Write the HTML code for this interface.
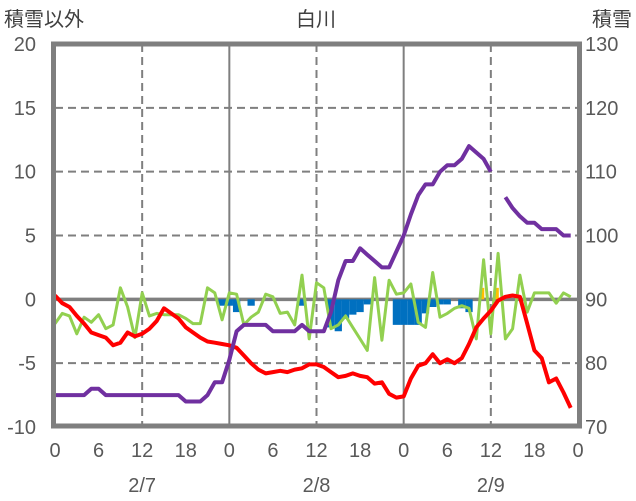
<!DOCTYPE html>
<html><head><meta charset="utf-8">
<style>
html,body{margin:0;padding:0;background:#fff;}
svg{display:block;font-family:"Liberation Sans","Noto Sans CJK JP",sans-serif;}
</style></head>
<body>
<svg id="chart" width="636" height="501" viewBox="0 0 636 501" xmlns="http://www.w3.org/2000/svg">
<g id="grid"></g>
<g id="bars"></g>
<g id="lines"></g>
<g id="axes"></g>
<text x="316" y="26" font-size="20" fill="#404040" text-anchor="middle">白川</text>
<text x="4" y="26" font-size="20" fill="#404040">積雪以外</text>
<text x="632" y="26" font-size="20" fill="#404040" text-anchor="end">積雪</text>
</svg>
<script>
const leftTicks = [20, 15, 10, 5, 0, -5, -10];
const rightTicks = [130, 120, 110, 100, 90, 80, 70];
const hourTickLabels = ["0","6","12","18","0","6","12","18","0","6","12","18","0"];
const dateLabels = ["2/7","2/8","2/9"];
const temperature = [0.3,-0.3,-0.6,-1.3,-1.9,-2.6,-2.8,-3.0,-3.6,-3.4,-2.6,-2.9,-2.7,-2.3,-1.7,-0.7,-1.1,-1.5,-2.2,-2.6,-3.0,-3.3,-3.4,-3.5,-3.6,-3.8,-4.4,-5.0,-5.5,-5.8,-5.7,-5.6,-5.7,-5.5,-5.4,-5.1,-5.1,-5.3,-5.7,-6.1,-6.0,-5.8,-6.0,-6.1,-6.6,-6.5,-7.4,-7.7,-7.6,-6.2,-5.2,-5.0,-4.3,-5.0,-4.7,-5.0,-4.6,-3.5,-2.2,-1.5,-0.9,-0.1,0.2,0.3,0.2,-1.9,-4.0,-4.6,-6.5,-6.2,-7.3,-8.5];
const otherSeries = [-1.9,-1.1,-1.3,-2.7,-1.4,-1.8,-1.2,-2.3,-2.0,0.9,-0.6,-3.0,0.5,-1.3,-1.1,-1.2,-1.2,-1.2,-1.5,-1.9,-1.9,0.9,0.5,-1.6,0.5,0.4,-2.0,-1.4,-1.0,0.4,0.2,-1.1,-1.0,-2.0,1.9,-3.1,1.3,0.9,-2.3,-2.0,-1.3,-2.2,-3.1,-4.0,1.7,-3.2,1.5,0.4,0.5,1.2,-1.8,-2.2,2.1,-1.4,-1.1,-0.7,-0.5,-0.7,-3.1,3.1,-2.7,3.6,-3.1,-2.3,1.9,-1.0,0.5,0.5,0.5,-0.3,0.5,0.2];
const snowDepth = [75,75,75,75,75,76,76,75,75,75,75,75,75,75,75,75,75,75,74,74,74,75,77,77,80.5,85,86,86,86,86,85,85,85,85,86,85,85,85,88,93,96,96,98,97,96,95,95,97.5,100,103.3,106.3,108,108,110,111,111,112,114,113,112,110,null,106,104.3,103,102,102,101,101,101,100,100];
const snowChange = [0,0,0,0,0,0,0,0,0,0,0,0,0,0,0,0,0,0,0,0,0,0,0,-0.5,-0.5,-1.0,0,-0.5,0,0,0,0,0,0,-0.5,0,0,0,-2.2,-2.5,-1.5,-1.2,-1.0,-0.4,0,0,0,-2.0,-2.0,-2.0,-2.0,-1.1,-0.6,-0.4,-0.4,0,-0.7,-1.0,0,0.9,0,0.9,0,0,0,0,0,0,0,0,0,0];

const NS='http://www.w3.org/2000/svg';
const X0=55, X1=578, Y0=44, Y1=427;
const xOf = h => X0 + h*(X1-X0)/72;
const yL = v => Y1 - (v+10)*(Y1-Y0)/30;
const yR = v => Y1 - (v-70)*(Y1-Y0)/60;
function mk(tag, attrs, parent){const e=document.createElementNS(NS,tag);for(const k in attrs)e.setAttribute(k,attrs[k]);parent.appendChild(e);return e;}
const grid=document.getElementById('grid'), bars=document.getElementById('bars'), lines=document.getElementById('lines'), axes=document.getElementById('axes');

leftTicks.forEach(v=>{
  if(v===20||v===-10||v===0) return;
  const l=mk('line',{x1:X0,x2:X1,y1:yL(v),y2:yL(v),stroke:'#7f7f7f','stroke-width':2,'stroke-dasharray':'8,5'},grid);
  
  
});
for(let h=12;h<72;h+=12){
  const solid = h%24===0;
  const l=mk('line',{x1:xOf(h),x2:xOf(h),y1:Y0,y2:Y1,stroke:'#7f7f7f','stroke-width':2},grid);
  if(!solid) l.setAttribute('stroke-dasharray','8,5');
  
  
}

const bw=(X1-X0)/72;
snowChange.forEach((v,i)=>{
  if(!v) return;
  const y=yL(Math.max(v,0)), hgt=Math.abs(yL(v)-yL(0));
  const r=mk('rect',{x:xOf(i)-bw/2,y:y,width:v>0?bw*0.6:bw,height:hgt,fill:v>0?'#ffc000':'#0070c0'},bars);
  
  
});

const zero=mk('line',{x1:X0,x2:X1,y1:yL(0),y2:yL(0),stroke:'#7f7f7f','stroke-width':3.5},grid);



function path(arr, yf){
  let d='', pen=false;
  arr.forEach((v,i)=>{ if(v===null){pen=false;return;} d+=(pen?'L':'M')+xOf(i).toFixed(1)+','+yf(v).toFixed(1); pen=true;});
  return d;
}
const pg=mk('path',{d:path(otherSeries,yL),fill:'none',stroke:'#92d050','stroke-width':3,'stroke-linejoin':'round'},lines);


const pt=mk('path',{d:path(temperature,yL),fill:'none',stroke:'#ff0000','stroke-width':4,'stroke-linejoin':'round'},lines);


const ps=mk('path',{d:path(snowDepth,yR),fill:'none',stroke:'#7030a0','stroke-width':4,'stroke-linejoin':'round'},lines);



const frame=mk('rect',{x:X0-1.5,y:Y0,width:X1-X0+3,height:Y1-Y0-1,fill:'none',stroke:'#7f7f7f','stroke-width':5},axes);



leftTicks.forEach(v=>{
  const t=mk('text',{x:36,y:yL(v)+7,'font-size':20,fill:'#595959','text-anchor':'end'},axes);
  t.textContent=v;
  
  
});
rightTicks.forEach(v=>{
  const t=mk('text',{x:585,y:yR(v)+7,'font-size':20,fill:'#595959'},axes);
  t.textContent=v;
  
  
});
hourTickLabels.forEach((s,i)=>{
  const t=mk('text',{x:xOf(i*6),y:457,'font-size':20,fill:'#595959','text-anchor':'middle'},axes);
  t.textContent=s;
  
  
});
dateLabels.forEach((s,i)=>{
  const t=mk('text',{x:xOf(12+24*i),y:492,'font-size':20,fill:'#595959','text-anchor':'middle'},axes);
  t.textContent=s;
  
  
});
</script>
</body></html>
